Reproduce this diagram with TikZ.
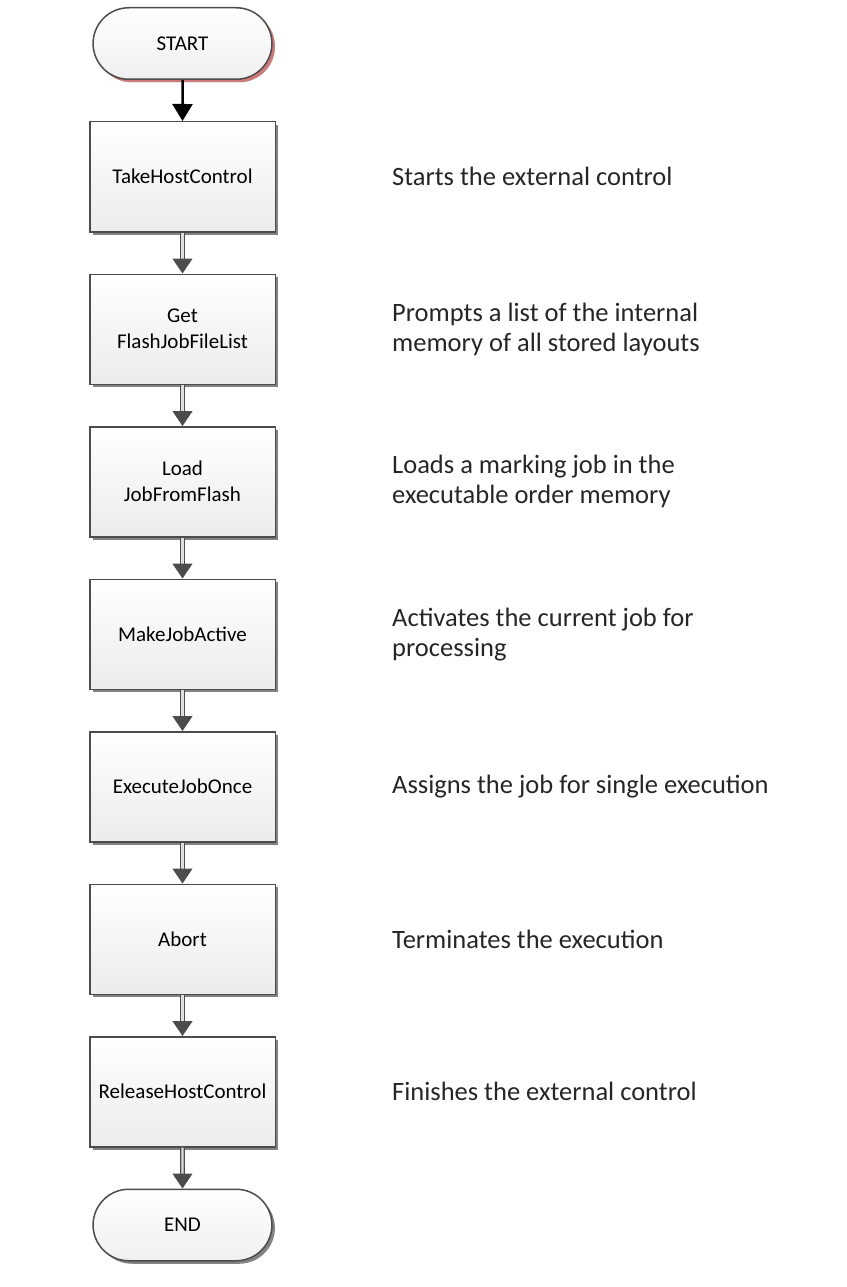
\documentclass[tikz,border=0pt]{standalone}
\usepackage{fontspec}
\setmainfont{Carlito}
\usetikzlibrary{arrows.meta,positioning,shapes.misc,shadows}

\begin{document}
\begin{tikzpicture}[x=1pt, y=1pt, node distance=41pt,
	   term/.style={rounded rectangle, draw=black!70, line width=1.5pt, top color=white, bottom color=gray!12,
	     minimum width=185.5pt, minimum height=71.5pt, font=\fontsize{21}{27}\selectfont,
	     drop shadow={shadow xshift=3pt, shadow yshift=-3pt, fill=black!65, opacity=.75}},
	   stepbox/.style={draw=black!70, line width=1.5pt, top color=white, bottom color=gray!15, align=center,
	     minimum width=185.5pt, minimum height=110pt, font=\fontsize{21}{26}\selectfont,
	     drop shadow={shadow xshift=3pt, shadow yshift=-3pt, fill=black!65, opacity=.75}},
	   note/.style={align=left, inner sep=0pt, text=black!85, font=\fontsize{26.5}{30}\selectfont},
	   flow/.style={draw=black!70, line width=1.3pt, double=gray!25, double distance=2.2pt,
	     -{Triangle[width=20pt,length=15pt]}},
	   firstflow/.style={draw=black, line width=2.5pt, -{Triangle[width=20pt,length=17pt]}}]
	  \useasboundingbox (0,0) rectangle (846,-1287);
	  \node[term, drop shadow={shadow xshift=3pt, shadow yshift=-3pt, fill=red!55, opacity=.6}] (start) at (182.5,-43.5) {START};
	  \node[stepbox, below=of start] (take) {TakeHostControl};
	  \node[stepbox, below=of take] (getlist) {Get\\FlashJobFileList};
	  \node[stepbox, below=of getlist] (load) {Load\\JobFromFlash};
	  \node[stepbox, below=of load] (active) {MakeJobActive};
	  \node[stepbox, below=of active] (once) {ExecuteJobOnce};
	  \node[stepbox, below=of once] (abort) {Abort};
	  \node[stepbox, below=of abort] (release) {ReleaseHostControl};
	  \node[term, below=of release] (end) {END};
	  % descriptions next to each step
	  \node[note, right=116pt of take] (ntake) {Starts the external control};
	  \node[note, right=116pt of getlist] (ngetlist) {Prompts a list of the internal\\memory of all stored layouts};
	  \node[note, right=116pt of load] (nload) {Loads a marking job in the\\executable order memory};
	  \node[note, right=116pt of active] (nactive) {Activates the current job for\\processing};
	  \node[note, right=116pt of once] (nonce) {Assigns the job for single execution};
	  \node[note, right=116pt of abort] (nabort) {Terminates the execution};
	  \node[note, right=116pt of release] (nrelease) {Finishes the external control};
	  \draw[firstflow] (start)--(take);
	  \draw[flow] (take)--(getlist); \draw[flow] (getlist)--(load);
	  \draw[flow] (load)--(active); \draw[flow] (active)--(once);
	  \draw[flow] (once)--(abort); \draw[flow] (abort)--(release);
	  \draw[flow] (release)--(end);
	\end{tikzpicture}
\end{document}
